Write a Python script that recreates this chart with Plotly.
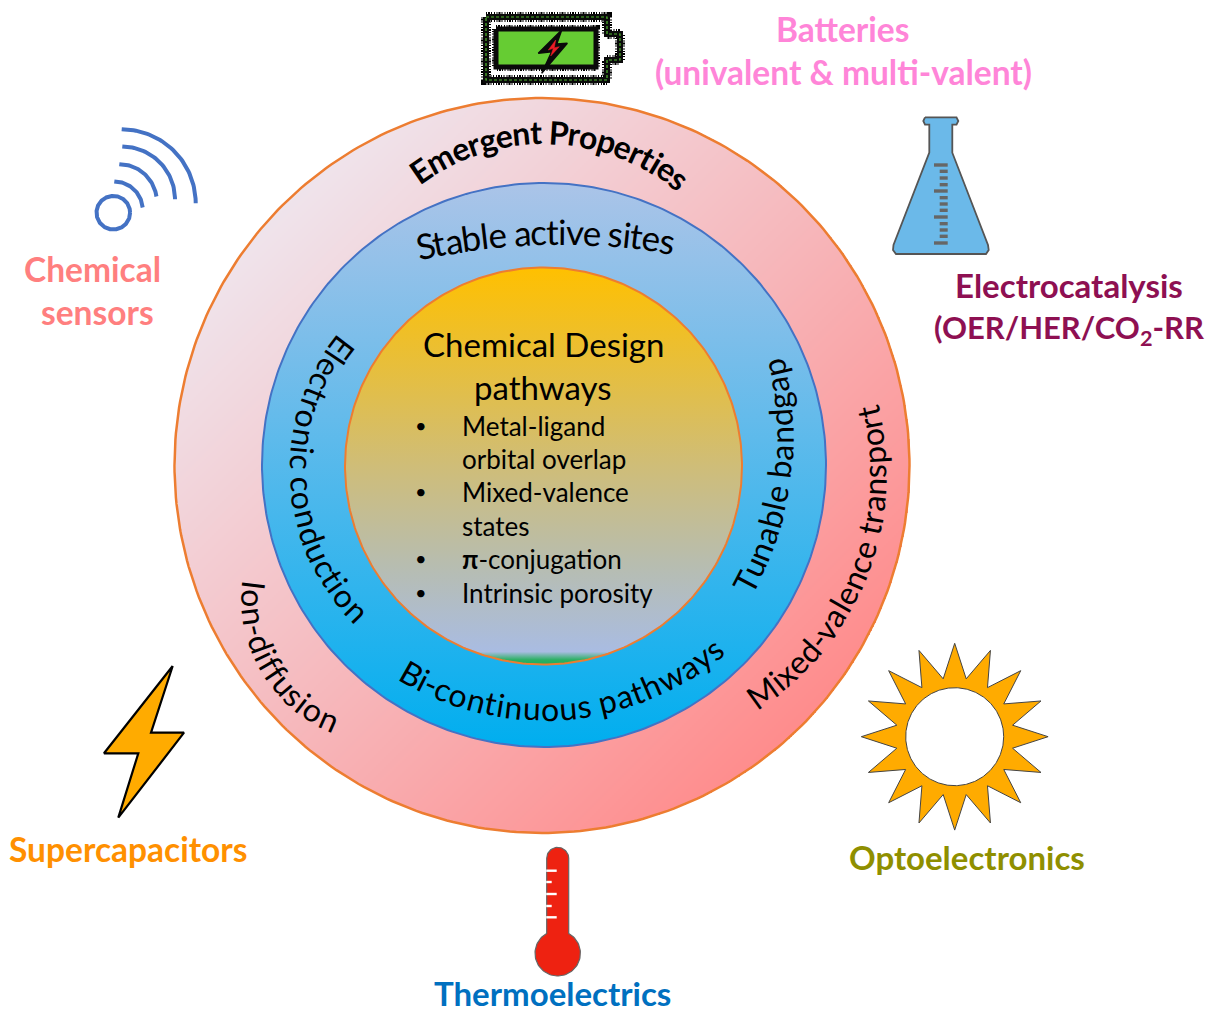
"""
Chemical design pathways -> emergent properties -> applications diagram.
"""

import numpy as np
import plotly.graph_objects as go

FONT = "Lato"

# rings: centre x, centre y, radius
OUTER = (542, 465.5, 367.5)
MIDDLE = (544, 465, 282)
INNER = (543.5, 466, 198.5)

# curved labels: text, first letter, a point on the way, last letter, size, bold, reads inward
CURVED = [
    ("Emergent Properties", (420, 170), (546.7, 131.7), (680, 178), 32, True, False),
    ("Stable active sites", (425, 245), (540, 231), (667, 240), 35, False, False),
    ("Electronic conduction", (343, 348), (302, 470), (358, 610), 32, False, True),
    ("Tunable bandgap", (745, 582), (779, 470), (773, 368), 32, False, True),
    ("Bi-continuous pathways", (412, 673), (550, 708), (713, 648), 32, False, True),
    ("Mixed-valence transport", (762, 692), (860, 560), (867, 412), 32, False, True),
    ("Ion-diffusion", (255, 585), (267, 657), (330, 718), 32, False, True),
]

# app labels: text, x, y, colour, size
APP_LABELS = [
    ("Batteries", 842, 29, "#ff85d8", 33.5),
    ("(univalent &amp; multi-valent)", 843, 72, "#ff85d8", 33.5),
    ("Chemical", 92, 269, "#ff7f7f", 33.5),
    ("sensors", 97, 312, "#ff7f7f", 33.5),
    ("Electrocatalysis", 1069, 285, "#8e1052", 33),
    ("(OER/HER/CO<sub>2</sub>-RR", 1069, 329, "#8e1052", 31),
    ("Optoelectronics", 967, 857, "#8f8f00", 33),
    ("Thermoelectrics", 552, 993, "#0070c0", 33),
    ("Supercapacitors", 128, 849, "#ff9000", 33.5),
]

DESIGN_TITLE = [("Chemical Design", 343.5), ("pathways", 386.5)]
DESIGN_LINES = [
    ("Metal-ligand", 425.5, True),
    ("orbital overlap", 458.5, False),
    ("Mixed-valence", 491.5, True),
    ("states", 525.5, False),
    ("<b>π</b>-conjugation", 558.5, True),
    ("Intrinsic porosity", 592.5, True),
]

# icons
BOLT_X = [172.7, 151, 184, 118.3, 138.3, 104]
BOLT_Y = [666, 732.7, 732.7, 817.7, 753.3, 753.3]
FLASK_X = [925, 923.3, 925, 929.3, 929.3, 893.5, 893, 896, 986, 988.7, 988, 952.3, 952.3, 956.5, 958.3, 956.5, 925]
FLASK_Y = [117.3, 121, 124.7, 124.7, 152.7, 245, 250, 254, 254, 250, 245, 152.7, 124.7, 124.7, 121, 117.3, 117.3]
FLASK_TICK_Y = [165, 171.3, 178, 184.7, 191, 197.7, 204, 210.3, 217, 223.7, 230, 236.3, 243]
FLASK_TICK_LONG = [1, 0, 0, 0, 1, 0, 0, 0, 1, 0, 0, 0, 1]
THERMO_TICK_Y = [870.7, 882, 894, 906, 917.3]
THERMO_TICK_X = [556.7, 551.7, 556.7, 551.7, 556.7]
WIFI_ARCS = [(121.7, 203.3, 74, -90, 0), (122.3, 199.3, 52.7, -90, 0),
             (119.3, 201.7, 37.5, -90, -8), (114.3, 210, 28.5, -90, -5)]
BATTERY_X = [486, 607, 607, 620, 620, 607, 607, 486, 486]
BATTERY_Y = [17, 17, 34, 34, 60, 60, 80, 80, 17]
BATTERY_IN_X = [496, 596, 596, 496, 496]
BATTERY_IN_Y = [29, 29, 67, 67, 29]
SPARK_X = [561.7, 538.3, 551.7, 541.7, 567.3, 556.7]
SPARK_Y = [30, 53.3, 51.7, 73.3, 43.3, 44]
SPARK_IN_X = [555.7, 548.3, 553.3, 550.7, 559.3, 554.3]
SPARK_IN_Y = [40, 50, 48.3, 56, 46.7, 47.7]

# rough Calibri advance widths in em, only used to space the curved letters
WIDTHS = dict(a=.479, b=.525, c=.423, d=.525, e=.498, f=.305, g=.471, h=.525, i=.229, j=.239,
              k=.455, l=.229, m=.799, n=.525, o=.527, p=.525, q=.525, r=.349, s=.391, t=.335,
              u=.525, v=.452, w=.715, x=.433, y=.453, z=.395, B=.544, E=.488, I=.252, M=.855,
              P=.517, S=.459, T=.487)
WIDTHS.update({" ": .226, "-": .306})

FUZZ = "1px,1px,2px,1px,1px,2px,1px,1.5px"

fig = go.Figure()


def circle_xy(cx, cy, r, a0=0, a1=360, n=361):
    t = np.radians(np.linspace(a0, a1, n))
    return cx + r * np.cos(t), cy + r * np.sin(t)


def poly(xs, ys, fill=None, line="#000000", w=1.0, dash=None):
    fig.add_trace(go.Scatter(
        x=list(xs), y=list(ys), mode="lines", hoverinfo="skip", showlegend=False,
        fill="toself" if fill else "none", fillcolor=fill,
        line=dict(color=line, width=w, dash=dash)))


def circle_through(p1, p2, p3):
    a = np.array([[p2[0] - p1[0], p2[1] - p1[1]], [p3[0] - p1[0], p3[1] - p1[1]]]) * 2
    b = np.array([p2[0] ** 2 + p2[1] ** 2 - p1[0] ** 2 - p1[1] ** 2,
                  p3[0] ** 2 + p3[1] ** 2 - p1[0] ** 2 - p1[1] ** 2])
    cx, cy = np.linalg.solve(a, b)
    return cx, cy, np.hypot(p1[0] - cx, p1[1] - cy)


def curved(text, p1, p2, p3, size, bold, inward):
    cx, cy, r = circle_through(p1, p2, p3)
    start = np.degrees(np.arctan2(p1[0] - cx, cy - p1[1]))
    end = np.degrees(np.arctan2(p3[0] - cx, cy - p3[1]))
    # always take the short way round
    end = start + (end - start + 180) % 360 - 180

    w = [WIDTHS.get(c, .5) for c in text]
    total = sum(w) - w[0] / 2 - w[-1] / 2
    pos = -w[0] / 2
    for c, cw in zip(text, w):
        th = start + (end - start) * (pos + cw / 2) / total
        pos += cw
        if c == " ":
            continue
        t = np.radians(th)
        fig.add_annotation(
            x=cx + r * np.sin(t), y=cy - r * np.cos(t), text=f"<b>{c}</b>" if bold else c,
            showarrow=False, textangle=th - 180 if inward else th,
            font=dict(family=FONT, size=size, color="#000000"),
            xanchor="center", yanchor="middle")


# ── outer ring, diagonal gradient ─────────────────────────────
cx, cy, r = OUTER
gx = np.arange(cx - r, cx + r + 2, 2)
gy = np.arange(cy - r, cy + r + 2, 2)
X, Y = np.meshgrid(gx, gy)
Z = ((X - cx) + (Y - cy)) / (2 * r * 0.74)
Z[(X - cx) ** 2 + (Y - cy) ** 2 > r ** 2] = np.nan
fig.add_trace(go.Heatmap(
    x=gx, y=gy, z=Z.astype("float32"), zmin=-1, zmax=1, showscale=False, hoverinfo="skip",
    colorscale=[[0, "#efe6ee"], [0.5, "#f6b9bd"], [1, "#ff8a8a"]]))
poly(*circle_xy(cx, cy, r), line="#ed7d31", w=2.5)

# ── middle + inner discs ──────────────────────────────────────
cx, cy, r = MIDDLE
mx, my = circle_xy(cx, cy, r)
fig.add_trace(go.Scatter(
    x=mx, y=my, mode="lines", fill="toself", hoverinfo="skip", showlegend=False,
    line=dict(color="#4472c4", width=2),
    fillgradient=dict(type="vertical", colorscale=[[0, "#00aeef"], [1, "#abc4e8"]])))

cx, cy, r = INNER
ix, iy = circle_xy(cx, cy, r)
fig.add_trace(go.Scatter(
    x=ix, y=iy, mode="lines", fill="toself", hoverinfo="skip", showlegend=False,
    line=dict(color="#ed7d31", width=2),
    fillgradient=dict(type="vertical", colorscale=[
        [0, "#1fae5a"], [0.012, "#2cb064"], [0.032, "#a9bce2"], [0.25, "#b7bdb0"],
        [0.5, "#cfbd78"], [1, "#ffc000"]])))

# ── icons ─────────────────────────────────────────────────────
# battery
poly(BATTERY_X, BATTERY_Y, fill="#ffffff", line="#000000", w=10, dash=FUZZ)
poly(BATTERY_X, BATTERY_Y, line="#0a0a0a", w=6)
poly(BATTERY_X, BATTERY_Y, line="#4fb82c", w=1.2, dash="3px,2px")
poly(BATTERY_IN_X, BATTERY_IN_Y, line="#000000", w=8, dash=FUZZ)
poly(BATTERY_IN_X, BATTERY_IN_Y, fill="#66cc33", line="#0a0a0a", w=5)
poly(SPARK_X + SPARK_X[:1], SPARK_Y + SPARK_Y[:1], fill="#0a0a0a", line="#0a0a0a", w=1.5)
poly(SPARK_IN_X + SPARK_IN_X[:1], SPARK_IN_Y + SPARK_IN_Y[:1], fill="#ee1c25", line="#ee1c25", w=0.5)

# flask
poly(FLASK_X, FLASK_Y, fill="#6bb9e9", line="#555555", w=1.8)
for y, long_tick in zip(FLASK_TICK_Y, FLASK_TICK_LONG):
    poly([934 if long_tick else 939.7, 947.7], [y, y], line="#666666", w=3.4)

# wifi
poly(*circle_xy(113.3, 212.7, 16.8), line="#4472c4", w=4)
for ax, ay, ar, a0, a1 in WIFI_ARCS:
    ox, oy = circle_xy(ax, ay, ar, a0, a1, 50)
    poly(ox, oy, line="#4472c4", w=4)

# lightning bolt
poly(BOLT_X + BOLT_X[:1], BOLT_Y + BOLT_Y[:1], fill="#ffab00", line="#000000", w=2.2)

# sun: 16 spikes round a hole
sun_t = np.radians(np.arange(0, 360.1, 11.25) - 90)
sun_r = np.where(np.arange(len(sun_t)) % 2 == 0, 93.4, 59)
poly(954.7 + sun_r * np.cos(sun_t), 736.7 + sun_r * np.sin(sun_t), fill="#ffab00", line="#444444", w=1)
poly(*circle_xy(954.7, 736.7, 49), fill="#ffffff", line="#444444", w=1)

# thermometer
tx, ty = circle_xy(557.7, 858.3, 11, 180, 360, 40)
bx, by = circle_xy(557.7, 953.3, 22.7, -61, 241, 80)
poly(list(tx) + list(bx) + [tx[0]], list(ty) + list(by) + [ty[0]], fill="#ee2211", line="#666666", w=1.2)
for y, x_end in zip(THERMO_TICK_Y, THERMO_TICK_X):
    poly([546.2, x_end], [y, y], line="#ffffff", w=2.4)

# ── straight text ─────────────────────────────────────────────
for text, x, y, color, size in APP_LABELS:
    fig.add_annotation(x=x, y=y, text=f"<b>{text}</b>", showarrow=False,
                       font=dict(family=FONT, size=size, color=color),
                       xanchor="center", yanchor="middle")

for text, y in DESIGN_TITLE:
    fig.add_annotation(x=543, y=y, text=text, showarrow=False,
                       font=dict(family=FONT, size=33, color="#000000"),
                       xanchor="center", yanchor="middle")

for text, y, bullet in DESIGN_LINES:
    fig.add_annotation(x=460, y=y, text=text, showarrow=False,
                       font=dict(family=FONT, size=26, color="#000000"),
                       xanchor="left", yanchor="middle")
    if bullet:
        fig.add_annotation(x=421, y=y - 1, text="•", showarrow=False,
                           font=dict(family=FONT, size=20, color="#000000"),
                           xanchor="center", yanchor="middle")

for text, p1, p2, p3, size, bold, inward in CURVED:
    curved(text, p1, p2, p3, size, bold, inward)

fig.update_layout(
    width=1205, height=1013, margin=dict(l=0, r=0, t=0, b=0),
    paper_bgcolor="#ffffff", plot_bgcolor="#ffffff", showlegend=False,
    xaxis=dict(visible=False, range=[0, 1205], fixedrange=True),
    yaxis=dict(visible=False, range=[1013, 0], fixedrange=True),
)
fig.write_html("out.html", config=dict(displayModeBar=False),
               post_script="document.body.style.margin='0px';")
